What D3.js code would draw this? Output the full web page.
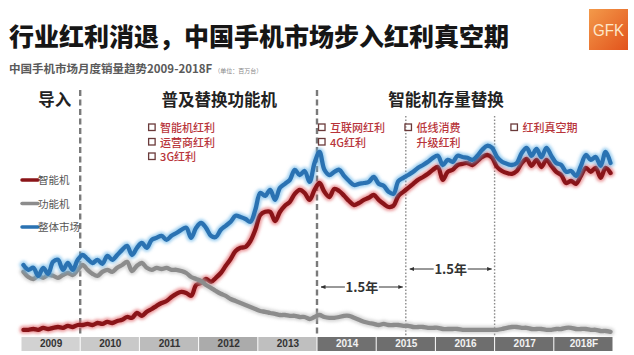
<!DOCTYPE html>
<html><head><meta charset="utf-8">
<script src="https://cdn.jsdelivr.net/npm/d3@7/dist/d3.min.js"></script>
<style>
html,body{margin:0;padding:0;background:#fff;}
svg{display:block;font-family:"Noto Sans CJK SC","Noto Sans",sans-serif;}
</style></head>
<body>
<svg id="chart" width="634" height="355"></svg>
<script>
// ---- data (monthly, millions of units, Jan 2009 .. Dec 2018F) ----
const years = ["2009","2010","2011","2012","2013","2014","2015","2016","2017","2018F"];
const startYear = 2009;
const smartphone = [1.3,1.3,1.5,1.3,1.8,1.5,1.8,2.0,1.8,2.3,2.0,2.5,
 2.5,2.8,2.5,3.0,2.8,3.3,3.0,3.5,3.8,4.5,4.3,5.5,
 4.8,5.8,6.5,7.3,8.0,8.5,9.5,10.3,10.8,10.5,9.8,12.5,
 13.0,14.0,13.3,14.3,15.5,17.3,19.0,21.0,21.8,22.0,23.5,26.3,
 30.0,30.8,30.8,28.5,30.8,32.3,33.3,35.3,36.3,35.5,33.8,36.3,
 38.0,35.8,34.5,36.5,36.0,34.8,33.5,32.5,33.0,33.8,34.3,35.0,
 33.8,32.8,32.0,32.3,34.8,35.8,36.8,37.8,38.8,39.5,40.3,41.3,
 42.0,38.8,40.8,41.3,42.5,42.8,43.0,42.5,43.5,44.5,45.0,44.3,
 42.0,41.0,40.5,40.3,41.0,43.0,44.0,42.3,43.8,42.0,43.8,42.3,
 40.8,40.0,38.0,38.5,37.8,39.8,41.8,40.8,41.8,39.3,41.8,40.5];
const featurePhone = [15.8,14.5,14.0,14.8,14.3,15.0,14.8,14.3,15.0,15.5,15.0,16.3,
 17.5,16.3,15.3,14.8,15.8,16.3,15.8,16.8,17.5,18.3,16.0,17.3,
 18.0,16.8,16.3,16.8,16.5,16.8,16.3,16.3,16.0,15.5,14.5,14.0,
 13.5,12.5,11.8,11.0,10.3,9.8,9.0,8.5,8.0,7.5,7.0,6.5,
 6.0,5.8,5.5,5.3,5.0,5.0,4.8,4.8,4.5,4.5,4.0,4.5,
 5.0,4.5,4.3,4.3,4.5,4.8,4.8,4.3,3.8,3.3,3.0,2.8,
 2.5,2.8,2.5,2.5,2.5,2.3,2.3,2.0,2.0,2.0,1.8,1.8,
 1.8,1.5,1.5,1.5,1.5,1.3,1.3,1.3,1.3,1.3,1.3,1.3,
 1.3,1.5,1.8,2.0,2.0,1.8,1.8,1.5,1.5,1.5,1.3,1.3,
 1.5,1.5,1.8,1.8,1.5,1.5,1.5,1.3,1.3,1.0,1.0,0.8];
const totalMarket = [17.5,16.3,16.8,14.8,16.8,15.3,18.3,18.8,16.3,18.0,16.3,18.8,
 20.0,19.0,18.0,18.8,17.8,19.8,18.8,20.0,21.3,22.3,20.0,21.8,
 23.0,21.8,23.8,24.3,24.8,23.8,24.8,25.5,26.3,26.8,24.3,26.8,
 28.0,26.8,24.8,24.5,26.3,27.3,28.3,29.8,29.5,29.0,28.3,31.3,
 35.5,34.8,36.3,33.8,36.8,37.8,38.8,41.3,40.0,41.0,38.3,43.0,
 45.8,41.3,40.0,40.8,41.3,39.8,38.5,37.5,37.8,38.0,38.3,39.5,
 37.8,37.3,35.8,35.3,38.5,39.3,40.0,40.8,41.8,42.5,43.3,44.3,
 44.8,42.5,43.8,43.3,44.8,44.5,44.3,43.8,44.8,46.3,47.3,46.8,
 44.5,43.3,42.8,42.5,43.0,45.5,46.8,44.8,46.5,44.5,46.8,44.8,
 43.0,42.5,40.8,41.0,39.8,42.3,45.0,43.8,44.5,42.3,45.8,43.0];
const seriesNames = ["智能机","功能机","整体市场"];
const phases = ["导入","普及替换功能机","智能机存量替换"];
const phaseCenters = [2009.57, 2012.35, 2016.18];
const bonusGroups = [
  {at:2011.35, items:["智能机红利","运营商红利","3G红利"]},
  {at:2014.22, items:["互联网红利","4G红利"]},
  {at:2015.68, items:["低线消费","升级红利"]},
  {at:2017.47, items:["红利真空期"]}
];
const boundaries = [{t:2010,kind:"dash"},{t:2014,kind:"dash"},{t:2015.5,kind:"dot"},{t:2017,kind:"dot"}];
const spans = [{from:2014,to:2015.5,label:"1.5年",y:287},{from:2015.5,to:2017,label:"1.5年",y:269}];

// ---- scales ----
const svg = d3.select("#chart");
const x = d3.scaleLinear().domain([startYear, startYear+10]).range([21, 613]);
const y = d3.scaleLinear().domain([0, 60]).range([335, 95]);
const tOf = i => startYear + (i + 0.5) / 12;

// ---- header ----
svg.append("text").attr("x", 9).attr("y", 46).attr("font-size", 25).attr("font-weight", 900)
  .attr("fill", "#161616").text("行业红利消退，中国手机市场步入红利真空期");
const sub = svg.append("text").attr("x", 9).attr("y", 73).attr("font-weight", 700).attr("fill", "#5a5a5a");
sub.append("tspan").attr("font-size", 11.5).text("中国手机市场月度销量趋势2009-2018F");
sub.append("tspan").attr("font-size", 6).attr("font-weight", 400).attr("fill", "#888").attr("dx", 2).text("（单位：百万台）");

// GfK logo
const defs = svg.append("defs");
const lg = defs.append("linearGradient").attr("id","gfk").attr("x1","0").attr("y1","0").attr("x2","1").attr("y2","1");
lg.append("stop").attr("offset","0").attr("stop-color","#f39a4a");
lg.append("stop").attr("offset","1").attr("stop-color","#e2531c");
svg.append("rect").attr("x", 589).attr("y", 9).attr("width", 39).attr("height", 41).attr("fill","url(#gfk)");
svg.append("text").attr("x", 608.5).attr("y", 36).attr("text-anchor","middle").attr("font-family","Liberation Sans Narrow, Liberation Sans, Arial, sans-serif")
  .attr("font-size", 16).attr("textLength", 31).attr("lengthAdjust","spacingAndGlyphs").attr("fill","#fde7c8").text("GFK");

// glow filter
const f = defs.append("filter").attr("id","glow").attr("x","-5%").attr("y","-20%").attr("width","110%").attr("height","140%");
f.append("feGaussianBlur").attr("stdDeviation", 1.8);

// ---- axis bar ----
const cellFill = ["#d2d2d2","#c9c9c9","#bcbcbc","#ababab","#bfbfbf","#707070","#6e6e6e","#6e6e6e","#6e6e6e","#6e6e6e"];
const bar = svg.append("g");
years.forEach((yr, k) => {
  bar.append("rect").attr("x", x(startYear+k)+0.5).attr("y", 337).attr("width", x(startYear+k+1)-x(startYear+k)-1)
    .attr("height", 14).attr("fill", cellFill[k]);
});
const xAxis = d3.axisBottom(x).tickValues(years.map((d,k)=>startYear+k+0.5))
  .tickFormat((d,k)=>years[k]).tickSize(0).tickPadding(0);
const ax = svg.append("g").attr("transform","translate(0,340)").call(xAxis);
ax.select(".domain").remove();
ax.selectAll("text").attr("font-size", 10).attr("font-weight", 700)
  .attr("font-family","Liberation Sans, Arial, sans-serif")
  .attr("fill", (d,k)=> k>=5 ? "#f2f2f2" : "#333");

// ---- boundaries ----
boundaries.forEach(b => {
  svg.append("line").attr("x1", x(b.t)).attr("x2", x(b.t))
    .attr("y1", b.kind==="dash" ? 90 : 116).attr("y2", 337)
    .attr("stroke", b.kind==="dash" ? "#7a7a7a" : "#8a8a8a")
    .attr("stroke-width", b.kind==="dash" ? 2.4 : 1.4)
    .attr("stroke-dasharray", b.kind==="dash" ? "6,3.5" : "1.6,1.8");
});

// ---- phase titles ----
phases.forEach((p,k) => {
  svg.append("text").attr("x", x(phaseCenters[k])).attr("y", 106).attr("text-anchor","middle")
    .attr("font-size", 16.5).attr("font-weight", 700).attr("fill","#222").text(p);
});

// ---- bonus lists ----
bonusGroups.forEach(g => {
  g.items.forEach((it, j) => {
    const bx = x(g.at), by = 128 + j*14.5;
    const hasBox = !(g.items[0]==="低线消费" && j===1);
    if (hasBox) svg.append("rect").attr("x", bx-11.5).attr("y", by-4).attr("width", 6.5).attr("height", 6.5)
      .attr("fill","none").attr("stroke","#6a3a3a").attr("stroke-width", 1.3);
    svg.append("text").attr("x", bx).attr("y", by+4).attr("font-size", 11).attr("font-weight", 500)
      .attr("fill","#b8343a").text(it);
  });
});

// ---- lines ----
const line = d3.line().x((d,i)=>x(tOf(i))).y(d=>y(d)).curve(d3.curveCatmullRom.alpha(0.5));
const series = [
  {data: smartphone, core:"#8a1418", halo:"#e0565a"},
  {data: featurePhone, core:"#8c8c8c", halo:"#bdbdbd"},
  {data: totalMarket, core:"#2a72b2", halo:"#5fb0e6"}
];
series.forEach(s => {
  svg.append("path").attr("d", line(s.data)).attr("fill","none").attr("stroke", s.halo)
    .attr("stroke-width", 8).attr("stroke-opacity", 0.6).attr("filter","url(#glow)")
    .attr("stroke-linejoin","round").attr("stroke-linecap","round");
  svg.append("path").attr("d", line(s.data)).attr("fill","none").attr("stroke", s.core)
    .attr("stroke-width", 4.3).attr("stroke-linejoin","round").attr("stroke-linecap","round");
});

// ---- legend ----
seriesNames.forEach((n,k) => {
  const ly = 180 + k*23.5;
  svg.append("line").attr("x1", 22).attr("x2", 38).attr("y1", ly).attr("y2", ly)
    .attr("stroke", series[k].core).attr("stroke-width", 3.5).attr("stroke-linecap","round");
  svg.append("text").attr("x", 38).attr("y", ly+4).attr("font-size", 10.5).attr("fill","#555").text(n);
});

// ---- spans ----
defs.append("marker").attr("id","arr").attr("viewBox","0 0 10 10").attr("refX",9).attr("refY",5)
  .attr("markerWidth",5).attr("markerHeight",5).attr("orient","auto-start-reverse")
  .append("path").attr("d","M0,1L10,5L0,9Z").attr("fill","#333");
spans.forEach(s => {
  const x1 = x(s.from)+4, x2 = x(s.to)-3, cx = (x1+x2)/2;
  svg.append("line").attr("x1", x1).attr("x2", cx-17).attr("y1", s.y).attr("y2", s.y)
    .attr("stroke","#333").attr("stroke-width",1).attr("marker-start","url(#arr)");
  svg.append("line").attr("x1", cx+17).attr("x2", x2).attr("y1", s.y).attr("y2", s.y)
    .attr("stroke","#333").attr("stroke-width",1).attr("marker-end","url(#arr)");
  svg.append("text").attr("x", cx).attr("y", s.y+5).attr("text-anchor","middle")
    .attr("font-size", 13).attr("font-weight",700).attr("fill","#333").text(s.label);
});
</script>
</body></html>
